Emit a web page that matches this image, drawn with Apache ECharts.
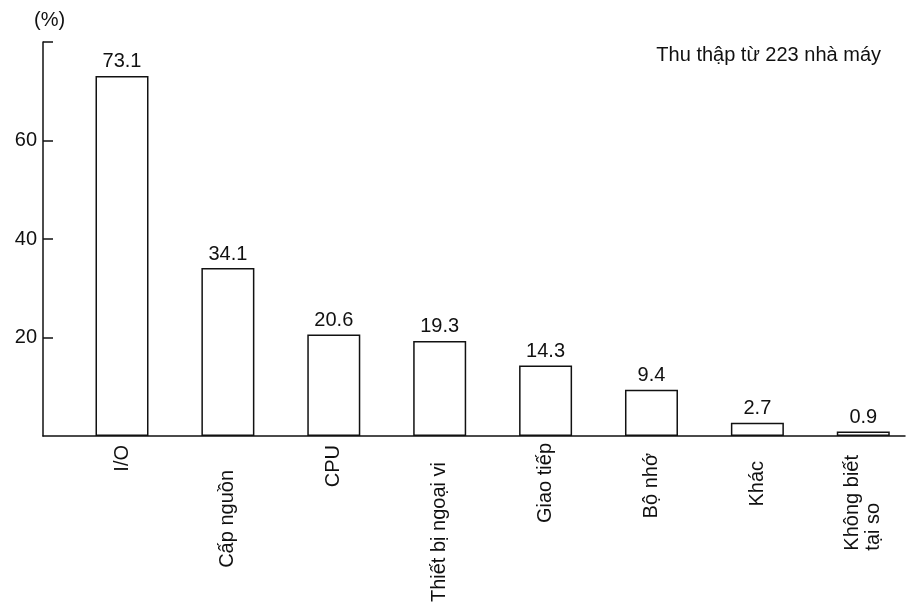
<!DOCTYPE html>
<html>
<head>
<meta charset="utf-8">
<script src="https://cdn.jsdelivr.net/npm/echarts@6/dist/echarts.min.js"></script>
<style>
	html, body { margin: 0; padding: 0; background: #fff; }
	#chart { width: 910px; height: 610px; }
</style>
</head>
<body>
<div id="chart"></div>
<script>
// categories and values
var categories = ['I/O', 'Cấp nguồn', 'CPU', 'Thiết bị ngoại vi', 'Giao tiếp', 'Bộ nhớ', 'Khác', 'Không biết\ntại so'];
var values = [73.1, 34.1, 20.6, 19.3, 14.3, 9.4, 2.7, 0.9];
var yTickLabels = [20, 40, 60];
var yTicks = [20, 40, 60, 80];

// extra gap between axis and each category label (px), only styling
var labelGap = [2, 27, 2, 19, 0, 10, 18, 12];

var FONT = '"Liberation Sans", Arial, sans-serif';
var FS = 20;

var positions = categories.map(function(c, i) { return i; });
var barData = values.map(function(v, i) { return [i, v]; });

var rich = {};
categories.forEach(function(c, i) {
	rich['c' + i] = { fontFamily: FONT, fontSize: FS, color: '#111', padding: [0, labelGap[i], 0, 0] };
});
rich.c7.lineHeight = 21;
// second line of the last label starts where the first one starts
var firstLineW = echarts.format.getTextRect
	? echarts.format.getTextRect('Không biết', FS + 'px ' + FONT).width
	: 96;
rich.t7 = { fontFamily: FONT, fontSize: FS, color: '#111', width: firstLineW + labelGap[7], align: 'left', lineHeight: 21 };

var myChart = echarts.init(document.getElementById('chart'));
var option = {
	backgroundColor: '#fff',
	animation: false,
	title: [{
		text: '(%)',
		left: 34,
		top: 10,
		padding: 0,
		textStyle: { fontFamily: FONT, fontSize: FS, fontWeight: 'normal', color: '#111' }
	}, {
		text: 'Thu thập từ 223 nhà máy',
		right: 29,
		top: 45,
		padding: 0,
		textStyle: { fontFamily: FONT, fontSize: FS, fontWeight: 'normal', color: '#111' }
	}],
	grid: {
		left: 43,
		right: 5,
		top: 42,
		bottom: 174
	},
	xAxis: {
		type: 'value',
		min: -0.746,
		max: 7.394,
		splitLine: { show: false },
		axisLine: { show: true, onZero: false, lineStyle: { color: '#111', width: 1.5 } },
		axisTick: { show: false },
		axisLabel: {
			show: true,
			customValues: positions,
			rotate: 90,
			margin: 7,
			formatter: function(v) {
				var i = Math.round(v);
				var parts = categories[i].split('\n');
				if (parts.length > 1) {
					return '{c' + i + '|' + parts[0] + '}\n{t7|' + parts[1] + '}';
				}
				return '{c' + i + '|' + parts[0] + '}';
			},
			rich: rich
		}
	},
	yAxis: {
		type: 'value',
		min: 0,
		max: 80,
		splitLine: { show: false },
		axisLine: { show: true, onZero: false, lineStyle: { color: '#111', width: 1.5 } },
		axisTick: {
			show: true,
			inside: true,
			length: 10,
			customValues: yTicks,
			lineStyle: { color: '#111', width: 1.5 }
		},
		axisLabel: {
			customValues: yTickLabels,
			margin: 6,
			fontFamily: FONT,
			fontSize: FS,
			color: '#111'
		}
	},
	series: [{
		name: 'Thu thập',
		type: 'bar',
		barWidth: 53,
		data: barData,
		itemStyle: {
			color: '#fff',
			borderColor: '#111',
			borderWidth: 1.5
		},
		label: {
			show: true,
			position: 'top',
			distance: 4,
			fontFamily: FONT,
			fontSize: FS,
			color: '#111',
			formatter: function(p) { return p.value[1].toFixed(1); }
		}
	}]
};
myChart.setOption(option);
</script>
</body>
</html>
